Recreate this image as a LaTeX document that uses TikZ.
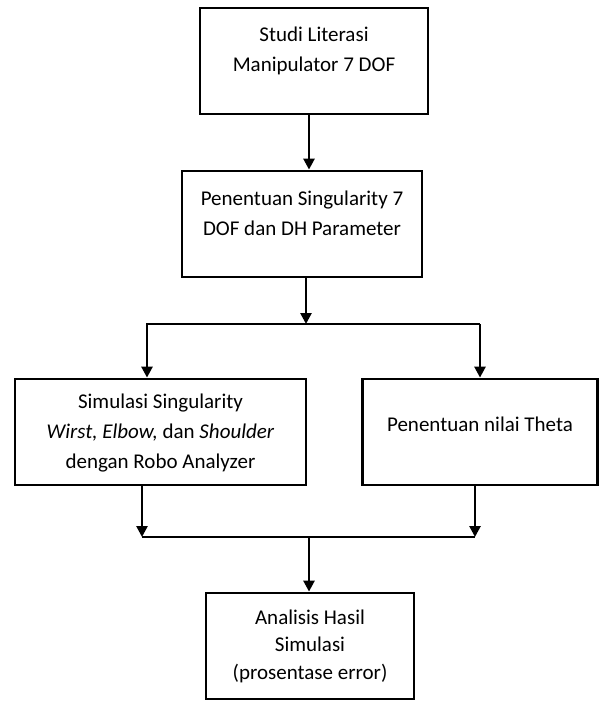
\documentclass[tikz,border=0pt]{standalone}
\usepackage{fontspec}
\setmainfont{Carlito}
\usetikzlibrary{arrows.meta}

\begin{document}
\begin{tikzpicture}[x=1pt, y=-1pt,
  stepbox/.style={draw, line width=2.8pt, align=center, inner sep=0pt, minimum height=106pt, font=\fontsize{21}{30}\selectfont},
  flow/.style={line width=2.6pt, -{Triangle[length=11pt, width=11pt]}},
  link/.style={line width=2.6pt}]
  \useasboundingbox (0,0) rectangle (600,701);
  \node[stepbox, minimum width=228pt, text height=63pt, text depth=43pt] (Lit) at (314,61) {Studi Literasi\\Manipulator 7 DOF};
  \node[stepbox, minimum width=240pt, text height=64pt, text depth=42pt] (DH) at (302,224) {Penentuan Singularity 7\\DOF dan DH Parameter};
  \node[stepbox, minimum width=291pt, text height=89pt, text depth=17pt] (Sim) at (160.5,432) {Simulasi Singularity\\\textit{Wirst, Elbow,} dan \textit{Shoulder}\\dengan Robo Analyzer};
  \node[stepbox, minimum width=235pt, text height=52pt, text depth=54pt] (Theta) at (480,432) {Penentuan nilai Theta};
  \node[stepbox, minimum width=208pt, text height=86pt, text depth=20pt, font=\fontsize{21}{27.5}\selectfont] (Hasil) at (310,646) {Analisis Hasil\\Simulasi\\(prosentase error)};
  % percabangan
  \coordinate (split) at (306,324);
  \coordinate (splitL) at (147,324);
  \coordinate (splitR) at (480,324);
  % penggabungan
  \coordinate (joinL) at (142,537);
  \coordinate (joinR) at (475,537);
  \coordinate (join) at (309,537);
  \draw[flow] ([xshift=-5pt]Lit.south) -- ([xshift=-5pt]Lit.south |- DH.north);
  \draw[flow] ([xshift=4pt]DH.south) -- (split);
  \draw[flow] (splitR) -- (splitL) -- (splitL |- Sim.north);
  \draw[flow] (splitR) -- (splitR |- Theta.north);
  \draw[flow] (joinL |- Sim.south) -- (joinL);
  \draw[flow] (joinR |- Theta.south) -- (joinR);
  \draw[link] (joinL) -- (joinR);
  \draw[flow] (join) -- (join |- Hasil.north);
\end{tikzpicture}
\end{document}
